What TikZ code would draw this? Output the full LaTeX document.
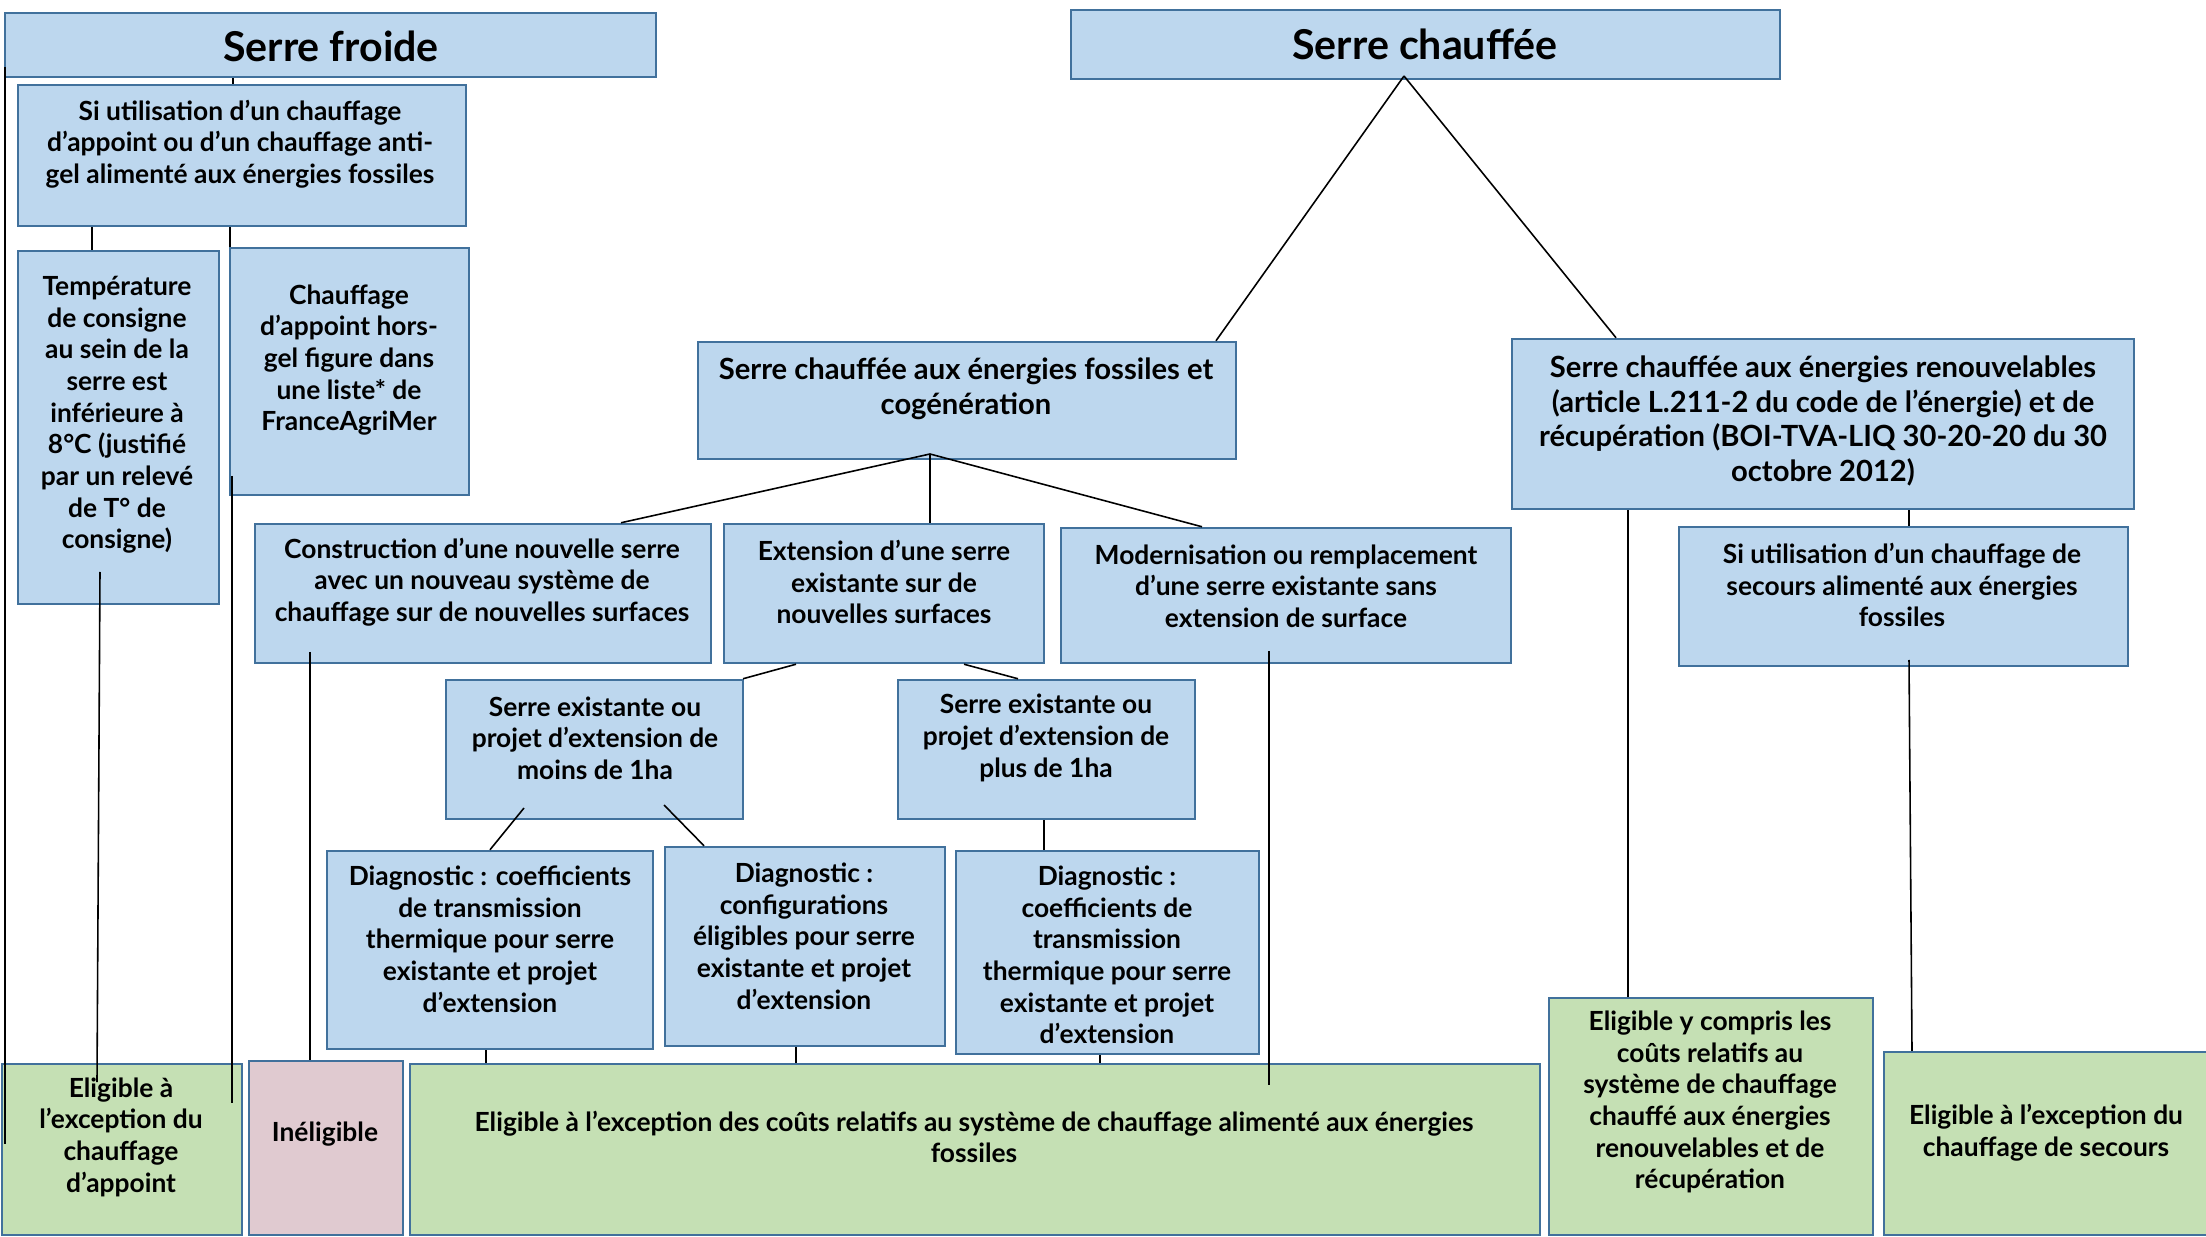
\documentclass[tikz,border=0pt]{standalone}
\usepackage{fontspec}
\setmainfont{Lato}
\usetikzlibrary{fit}

\definecolor{fondBleu}{HTML}{BDD7EE}
\definecolor{bordBleu}{HTML}{41719C}
\definecolor{fondVert}{HTML}{C5E0B4}
\definecolor{fondRose}{HTML}{E0CAD0}

\begin{document}
\begin{tikzpicture}[x=0.01cm, y=-0.01cm,
    boite/.style={draw=bordBleu, line width=0.7pt, inner sep=0pt},
    caseBleue/.style={boite, fill=fondBleu},
    caseVerte/.style={boite, fill=fondVert},
    caseRose/.style={boite, fill=fondRose},
    texte/.style={align=center, inner sep=0pt, font=\bfseries\fontsize{7.5}{9}\selectfont},
    texteGrand/.style={texte, font=\bfseries\fontsize{8.3}{9.9}\selectfont},
    titre/.style={inner sep=0pt, font=\bfseries\fontsize{11.7}{14}\selectfont},
    trait/.style={line width=0.45pt}]
    \useasboundingbox (0,0) rectangle (2206,1237);

    % extrémités des traits
    \coordinate (sommetChauffee) at (1404,76);
    \coordinate (sommetFossiles) at (930,454);
    \coordinate (bordGauche) at (5,67);
    \coordinate (finGauche) at (5,1144);
    \coordinate (tempBas) at (100,572);
    \coordinate (finTemp) at (97,1082);
    \coordinate (horsGelBas) at (232,476);
    \coordinate (finHorsGel) at (232,1103);
    \coordinate (constrBas) at (310,652);
    \coordinate (modernBas) at (1269,651);
    \coordinate (finModern) at (1269,1085);
    \coordinate (moinsBasG) at (524,808);
    \coordinate (moinsBasD) at (664,805);
    \coordinate (secoursBas) at (1909,660);

    % serre froide
    \node [caseBleue, fit={(5,13) (656,77)}] (froide) {};
    \node [titre] at (331,46) {Serre froide};
    \node [caseBleue, fit={(18,85) (466,226)}] (siFroid) {};
    \node [texte] at (240,144) {Si utilisation d’un chauffage\\d’appoint ou d’un chauffage anti-\\gel alimenté aux énergies fossiles};
    \node [caseBleue, fit={(18,251) (219,604)}] (temp) {};
    \node [texte] at (117,415) {Température\\de consigne\\au sein de la\\serre est\\inférieure à\\8°C (justifié\\par un relevé\\de T° de\\consigne)};
    \node [caseBleue, fit={(230,248) (469,495)}] (horsGel) {};
    \node [texte] at (349,360) {Chauffage\\d’appoint hors-\\gel figure dans\\une liste* de\\FranceAgriMer};

    % serre chauffée
    \node [caseBleue, fit={(1071,10) (1780,79)}] (chauffee) {};
    \node [titre] at (1425,44) {Serre chauffée};
    \node [caseBleue, fit={(698,342) (1236,459)}] (fossiles) {};
    \node [texteGrand] at (966,389) {Serre chauffée aux énergies fossiles et\\cogénération};
    \node [caseBleue, fit={(1512,339) (2134,509)}] (renouv) {};
    \node [texteGrand] at (1823,421) {Serre chauffée aux énergies renouvelables\\(article L.211-2 du code de l'énergie) et de\\récupération (BOI-TVA-LIQ 30-20-20 du 30\\octobre 2012)};
    \node [caseBleue, fit={(255,524) (711,663)}] (constr) {};
    \node [texte] at (482,582) {Construction d’une nouvelle serre\\avec un nouveau système de\\chauffage sur de nouvelles surfaces};
    \node [caseBleue, fit={(724,524) (1044,663)}] (ext) {};
    \node [texte] at (884,582) {Extension d’une serre\\existante sur de\\nouvelles surfaces};
    \node [caseBleue, fit={(1061,528) (1511,663)}] (modern) {};
    \node [texte] at (1286,586) {Modernisation ou remplacement\\d’une serre existante sans\\extension de surface};
    \node [caseBleue, fit={(1679,527) (2128,666)}] (secours) {};
    \node [texte] at (1902,585) {Si utilisation d’un chauffage de\\secours alimenté aux énergies\\fossiles};
    \node [caseBleue, fit={(446,680) (743,819)}] (moins) {};
    \node [texte] at (595,738) {Serre existante ou\\projet d’extension de\\moins de 1ha};
    \node [caseBleue, fit={(898,680) (1195,819)}] (plus) {};
    \node [texte] at (1046,738) {Serre existante ou\\projet d’extension de\\plus de 1ha};
    \node [caseBleue, fit={(327,851) (653,1049)}] (diagA) {};
    \node [texte] at (490,939) {Diagnostic : coefficients\\de transmission\\thermique pour serre\\existante et projet\\d’extension};
    \node [caseBleue, fit={(665,847) (945,1046)}] (diagB) {};
    \node [texte] at (804,936) {Diagnostic :\\configurations\\éligibles pour serre\\existante et projet\\d’extension};
    \node [caseBleue, fit={(956,851) (1259,1054)}] (diagC) {};
    \node [texte] at (1107,955) {Diagnostic :\\coefficients de\\transmission\\thermique pour serre\\existante et projet\\d’extension};

    % résultats
    \node [caseVerte, fit={(2,1064) (242,1235)}] (eligApp) {};
    \node [texte] at (121,1137) {Eligible à\\l’exception du\\chauffage\\d’appoint};
    \node [caseRose, fit={(249,1061) (403,1235)}] (inelig) {};
    \node [texte] at (325,1134) {Inéligible};
    \node [caseVerte, fit={(410,1064) (1540,1235)}] (eligBig) {};
    \node [texte] at (974,1137) {Eligible à l’exception des coûts relatifs au système de chauffage alimenté aux énergies\\fossiles};
    \node [caseVerte, fit={(1549,998) (1873,1235)}] (eligRen) {};
    \node [texte] at (1710,1102) {Eligible y compris les\\coûts relatifs au\\système de chauffage\\chauffé aux énergies\\renouvelables et de\\récupération};
    \node [caseVerte, fit={(1884,1052) (2215,1235)}] (eligSec) {};
    \node [texte] at (2046,1133) {Eligible à l’exception du\\chauffage de secours};

    % traits
    \draw [trait] (bordGauche) -- (finGauche);
    \draw [trait] (233,0 |- froide.south) -- (233,0 |- siFroid.north);
    \draw [trait] (92,0 |- siFroid.south) -- (92,0 |- temp.north);
    \draw [trait] (230,0 |- siFroid.south) -- (230,0 |- horsGel.north);
    \draw [trait] (tempBas) -- (finTemp);
    \draw [trait] (horsGelBas) -- (finHorsGel);
    \draw [trait] (sommetChauffee) -- (1216,0 |- fossiles.north);
    \draw [trait] (sommetChauffee) -- (1616,0 |- renouv.north);
    \draw [trait] (sommetFossiles) -- (621,0 |- constr.north);
    \draw [trait] (sommetFossiles) -- (930,0 |- ext.north);
    \draw [trait] (sommetFossiles) -- (1202,0 |- modern.north);
    \draw [trait] (796,0 |- ext.south) -- (743,0 |- moins.north);
    \draw [trait] (964,0 |- ext.south) -- (1018,0 |- plus.north);
    \draw [trait] (moinsBasG) -- (490,0 |- diagA.north);
    \draw [trait] (moinsBasD) -- (704,0 |- diagB.north);
    \draw [trait] (1044,0 |- plus.south) -- (1044,0 |- diagC.north);
    \draw [trait] (constrBas) -- (310,0 |- inelig.north);
    \draw [trait] (modernBas) -- (finModern);
    \draw [trait] (486,0 |- diagA.south) -- (486,0 |- eligBig.north);
    \draw [trait] (796,0 |- diagB.south) -- (796,0 |- eligBig.north);
    \draw [trait] (1100,0 |- diagC.south) -- (1100,0 |- eligBig.north);
    \draw [trait] (1628,0 |- renouv.south) -- (1628,0 |- eligRen.north);
    \draw [trait] (1909,0 |- renouv.south) -- (1909,0 |- secours.north);
    \draw [trait] (secoursBas) -- (1912,0 |- eligSec.north);
\end{tikzpicture}
\end{document}
